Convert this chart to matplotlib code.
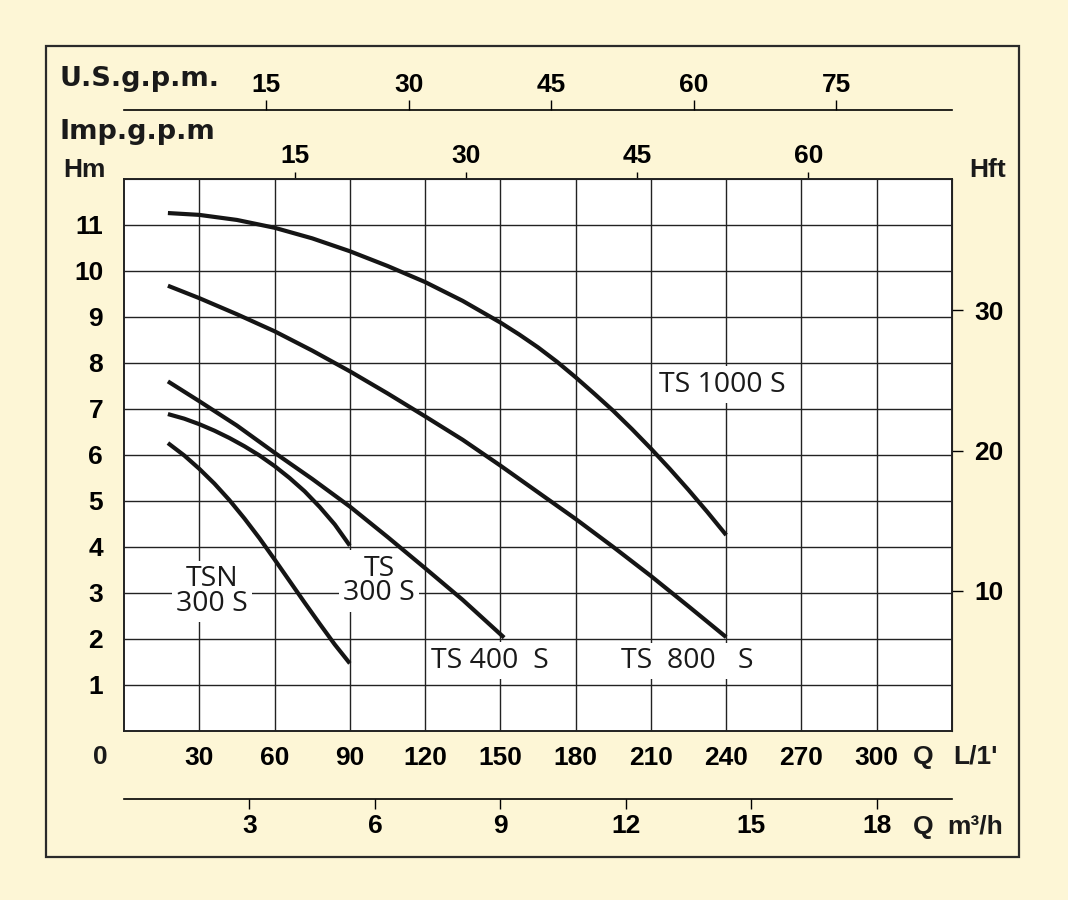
import matplotlib
matplotlib.use("Agg")
import matplotlib.pyplot as plt
from matplotlib.patches import Rectangle

plt.rcParams['font.family'] = ['Liberation Sans', 'DejaVu Sans']
plt.rcParams['font.weight'] = 'bold'

# pump curves: Q in L/min, H in m
q_ts1000 = [17.5, 30, 45, 60, 75, 90, 105, 120, 135, 150, 157.5, 165, 172.5, 180,
            187.5, 195, 202.5, 210, 217.5, 225, 232.5, 240]
h_ts1000 = [11.26, 11.22, 11.11, 10.94, 10.71, 10.43, 10.11, 9.76, 9.35, 8.88, 8.62, 8.34, 8.03, 7.69,
            7.33, 6.96, 6.56, 6.14, 5.70, 5.24, 4.76, 4.26]

q_ts800 = [17.5, 30, 45, 60, 75, 90, 105, 120, 135, 150, 165, 180, 195, 210, 225, 240]
h_ts800 = [9.68, 9.41, 9.06, 8.69, 8.27, 7.82, 7.34, 6.84, 6.33, 5.77, 5.19, 4.61, 4.00, 3.37, 2.71, 2.04]

q_ts400 = [17.5, 30, 45, 60, 75, 90, 105, 120, 135, 151.5]
h_ts400 = [7.60, 7.17, 6.64, 6.05, 5.48, 4.88, 4.22, 3.54, 2.85, 2.03]

q_ts300 = [17.5, 24, 30, 36, 42, 48, 54, 60, 66, 72, 78, 84, 90]
h_ts300 = [6.89, 6.79, 6.67, 6.53, 6.37, 6.19, 5.99, 5.76, 5.50, 5.21, 4.87, 4.49, 4.03]

q_tsn300 = [17.5, 24, 30, 36, 42, 48, 54, 60, 66, 72, 78, 84, 90]
h_tsn300 = [6.26, 5.99, 5.70, 5.38, 5.02, 4.62, 4.19, 3.73, 3.26, 2.79, 2.33, 1.88, 1.47]

curves = [(q_ts1000, h_ts1000), (q_ts800, h_ts800), (q_ts400, h_ts400),
          (q_ts300, h_ts300), (q_tsn300, h_tsn300)]

# curve labels: text, Q, H
labels = [("TS 1000 S", 238.5, 7.53),
          ("TS  800   S", 224.5, 1.52),
          ("TS 400  S", 146.0, 1.53),
          ("TS\n300 S", 101.7, 3.26),
          ("TSN\n300 S", 35.0, 3.03)]

q_ticks = [30, 60, 90, 120, 150, 180, 210, 240, 270, 300]
h_ticks = [1, 2, 3, 4, 5, 6, 7, 8, 9, 10, 11]
usgpm_ticks = [15, 30, 45, 60, 75]
impgpm_ticks = [15, 30, 45, 60]
m3h_ticks = [3, 6, 9, 12, 15, 18]
hft_ticks = [10, 20, 30]

cream = '#fdf6d6'
W, H = 1068, 900

fig = plt.figure(figsize=(W / 100, H / 100), dpi=100, facecolor=cream)
fig.patches.append(Rectangle((46 / W, 1 - 857 / H), 973 / W, 811 / H, transform=fig.transFigure,
                             fill=False, ec='#2a2a2a', lw=1.6))

x0, x1, y0, y1 = 124, 952, 179, 731
ax = fig.add_axes([x0 / W, 1 - y1 / H, (x1 - x0) / W, (y1 - y0) / H])
ax.set_facecolor('white')
ax.set_xlim(0, 330)
ax.set_ylim(0, 12)
ax.set_xticks(q_ticks)
ax.set_yticks(h_ticks)
ax.set_axisbelow(True)
ax.grid(True, color='#222222', lw=1.0)
for s in ax.spines.values():
    s.set_linewidth(1.4)
    s.set_color('#222222')
ax.tick_params(axis='x', length=0, pad=11, labelsize=19)
ax.tick_params(axis='y', length=0, pad=15, labelsize=19)

for q, h in curves:
    ax.plot(q, h, color='#151515', lw=3.0, solid_capstyle='butt', solid_joinstyle='round', zorder=4)

for txt, q, h in labels:
    ax.text(q, h, txt, ha='center', va='center', fontsize=20.5, fontweight='normal',
            family=['Open Sans', 'DejaVu Sans'], color='#1a1a1a',
            linespacing=0.85, zorder=3,
            bbox=dict(fc='white', ec='none', pad=3))

ph = y1 - y0
us = ax.secondary_xaxis(1 + 69 / ph, functions=(lambda q: q / 3.785, lambda g: g * 3.785))
us.set_xticks(usgpm_ticks)
us.tick_params(direction='out', length=7, width=1, pad=2, labelsize=19)
us.spines['top'].set_linewidth(1.2)

imp = ax.secondary_xaxis('top', functions=(lambda q: q / 4.546, lambda g: g * 4.546))
imp.set_xticks(impgpm_ticks)
imp.tick_params(direction='out', length=5, width=1, pad=3, labelsize=19)

m3 = ax.secondary_xaxis(-68 / ph, functions=(lambda q: q * 0.06, lambda m: m / 0.06))
m3.set_xticks(m3h_ticks)
m3.tick_params(direction='out', length=7, width=1, pad=4, labelsize=19)
m3.spines['bottom'].set_linewidth(1.2)

hft = ax.secondary_yaxis('right', functions=(lambda h: h * 3.281, lambda f: f / 3.281))
hft.set_yticks(hft_ticks)
hft.tick_params(direction='out', length=8, width=1, pad=8, labelsize=19)

def ftxt(x, y, s, **kw):
    fig.text(x / W, 1 - y / H, s, **kw)

big = dict(family='DejaVu Sans', fontweight='bold', fontsize=19.5,
           color='#1a1a1a', va='center', ha='left')
ftxt(59, 79, "U.S.g.p.m.", **big)
ftxt(59, 132, "Imp.g.p.m", **big)

small = dict(fontsize=19, ha='center', va='center', color='#1a1a1a')
ftxt(84, 170, "Hm", **small)
ftxt(988, 170, "Hft", **small)
ftxt(100, 757, "0", **small)
ftxt(923, 757, "Q", **small)
ftxt(975, 757, "L/1'", **small)
ftxt(923, 827, "Q", **small)
ftxt(975, 827, "m³/h", **small)

fig.savefig("out.png", dpi=100, facecolor=cream)
